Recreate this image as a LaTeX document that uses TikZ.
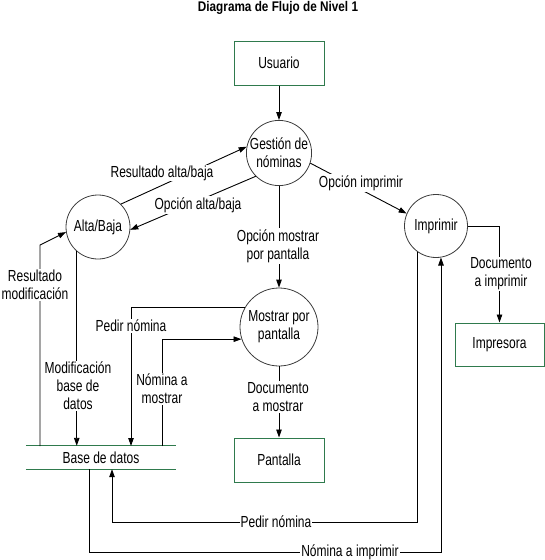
\documentclass[tikz,border=0pt]{standalone}
\usepackage{fontspec}
\setmainfont{Liberation Sans}[FakeStretch=0.75]
\newfontfamily\titlefont{Liberation Sans}[FakeStretch=0.84]
\usetikzlibrary{arrows.meta}
\definecolor{boxgreen}{RGB}{47,122,77}
\definecolor{circgray}{RGB}{60,60,60}
\begin{document}
\begin{tikzpicture}[x=1pt,y=-1pt,
  every node/.style={font=\fontsize{16}{18}\selectfont, align=center},
  ext/.style={draw=boxgreen, line width=1pt, minimum width=90pt, minimum height=44pt, inner sep=0pt},
  proc/.style={draw=circgray, line width=0.8pt, circle, inner sep=0pt},
  lbl/.style={fill=white, inner sep=1pt},
  arr/.style={line width=0.9pt, -{Triangle[length=8pt,width=5.5pt]}},
  ln/.style={line width=0.9pt}
]
\useasboundingbox (0,0) rectangle (545,560);

\node[font=\titlefont\bfseries\fontsize{14}{16}\selectfont] (title) at (278,8) {Diagrama de Flujo de Nivel 1};

\node[ext] (usr) at (279,63) {Usuario};
\node[ext] (pant) at (279,460) {Pantalla};
\node[ext, minimum width=89pt, minimum height=43pt] (impr) at (499.5,344.5) {Impresora};

\node[proc, minimum size=63pt] (gest) at (279,153) {Gesti\'on de\\n\'ominas};
\node[proc, minimum size=64pt] (alta) at (98,227) {Alta/Baja};
\node[proc, minimum size=63pt] (imp) at (436,226) {Imprimir};
\node[proc, minimum size=78pt] (mos) at (279,327) {Mostrar por\\pantalla};

\node[minimum width=150pt, minimum height=23pt, inner sep=0pt] (db) at (101,457.5) {Base de datos};
\draw[draw=boxgreen, line width=1pt] (db.north west) -- (db.north east);
\draw[draw=boxgreen, line width=1pt] (db.south west) -- (db.south east);

% coordinates on the data store
\coordinate (dbrm) at (40,446);
\coordinate (dbpn) at (131,446);
\coordinate (dbnm) at (162,446);
\coordinate (rmk) at (40,245);
\coordinate (pnc) at (112,522);
\coordinate (nic) at (89,552);

% connectors
\draw[arr] (usr.south) -- (gest.north);
\draw[arr] (alta.45) -- (gest.169);
\draw[arr] (gest.225) -- (alta.355);
\draw[arr] (gest.-18) -- (imp.157);
\draw[arr] (gest.south) -- (mos.north);
\draw[arr] (mos.151) -| (dbpn);
\draw[arr] (dbnm) |- (mos.198);
\draw[arr] (alta.229) -- (alta.229 |- db.north);
\draw[arr] (dbrm) -- (rmk) -- (alta.189);
\draw[arr] (mos.south) -- (pant.north);
\draw[arr] (imp.east) -| (impr.north);
\draw[arr] (imp.234) |- (pnc) -- (pnc |- db.south);
\draw[arr] (nic |- db.south) -- (nic) -| (imp.-81);

% labels
\node[lbl] (l1) at (162,173) {Resultado alta/baja};
\node[lbl] (l2) at (198,205) {Opci\'on alta/baja};
\node[lbl] (l3) at (361,183) {Opci\'on imprimir};
\node[lbl] (l4) at (278,246) {Opci\'on mostrar\\por pantalla};
\node[lbl] (l5) at (131,326) {Pedir n\'omina};
\node[lbl] (l6) at (162,389) {N\'omina a\\mostrar};
\node[lbl] (l7) at (78,386) {Modificaci\'on\\base de\\datos};
\node[lbl] (l8) at (35,285) {Resultado\\modificaci\'on};
\node[lbl] (l9) at (278,397) {Documento\\a mostrar};
\node[lbl] (l10) at (501,274) {Documento\\a imprimir};
\node[lbl] (l11) at (276,522) {Pedir n\'omina};
\node[lbl] (l12) at (350,552) {N\'omina a imprimir};
\end{tikzpicture}
\end{document}
